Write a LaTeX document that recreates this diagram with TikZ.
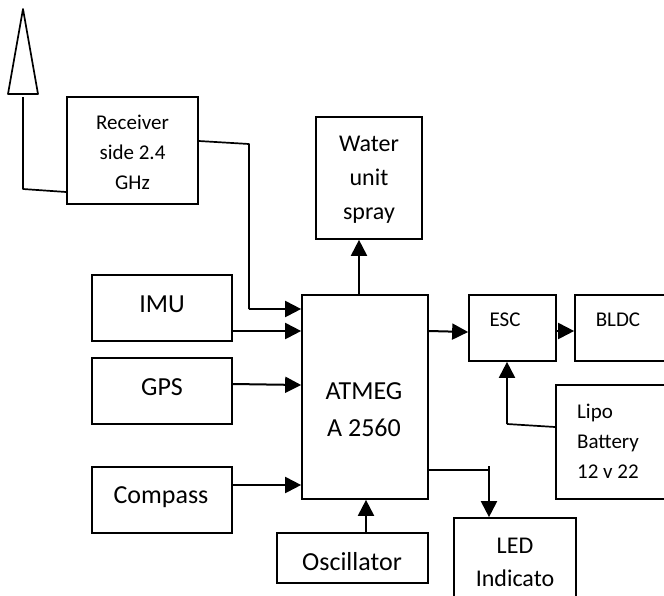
\documentclass[tikz,border=0pt]{standalone}
\usepackage{fontspec}
\setmainfont{Carlito}
\usetikzlibrary{arrows.meta,positioning}

\begin{document}
\begin{tikzpicture}[x=1pt,y=-1pt,
  blk/.style={rectangle,draw=black,line width=1.7pt,inner sep=0pt,align=center},
  txt/.style={inner sep=0pt,align=center,font=\fontsize{26}{37}\selectfont},
  sml/.style={inner sep=0pt,align=center,font=\fontsize{21}{30}\selectfont},
  wire/.style={line width=1.7pt,line join=round},
  sig/.style={wire,line width=2pt,-{Triangle[length=16pt,width=16pt]}},
]
\clip (0,0) rectangle (664,595);

% Antenna
\draw[wire] (23,9) -- (38,94) -- (8,94) -- cycle;
\coordinate (ant) at (23,97);

% Left column
\node[blk, minimum width=131, minimum height=107] (rcv) at (132.5,150.5) {};
\node[sml] (rcvt) at (132.5,152) {Receiver\\side 2.4\\GHz};
\node[blk, minimum width=140, minimum height=66] (imu) at (162,308) {};
\node[txt] (imut) at (162,304) {IMU};
\node[blk, minimum width=140, minimum height=66] (gps) at (162,391) {};
\node[txt] (gpst) at (162,387) {GPS};
\node[blk, minimum width=140, minimum height=66] (cmp) at (162,500) {};
\node[txt] (cmpt) at (161,497) {Compass};

% Controller
\node[blk, minimum width=126, minimum height=204] (atm) at (365,397) {};
\node[txt] (atmt) at (364,410) {ATMEG\\A 2560};
\node[blk, minimum width=151, minimum height=50] (osc) at (352.5,558) {};
\node[txt] (osct) at (352,562) {Oscillator};
\node[blk, minimum width=106, minimum height=122] (wtr) at (369,178) {};
\node[txt, font=\fontsize{24}{34}\selectfont] (wtrt) at (369,180) {Water\\unit\\spray};

% Right side
\node[blk, minimum width=87, minimum height=66] (esc) at (512.5,328) {};
\node[sml] (esct) at (505,320) {ESC};
\node[blk, minimum width=125, minimum height=66] (bldc) at (637.5,328) {};
\node[sml] (bldct) at (618,320) {BLDC};
\node[blk, minimum width=148, minimum height=114] (lipo) at (630,442) {};
\node[sml, align=left] (lipot) at (608,441) {Lipo\\Battery\\12 v 22};
\node[blk, minimum width=122, minimum height=120] (led) at (515,578) {};
\node[sml, font=\fontsize{24}{33}\selectfont] (ledt) at (515,562) {LED\\Indicato};

% Connectors
\draw[wire] (ant) -- (23,189) -- (rcv.west |- 0,192);
\coordinate (rcvb) at (249,144);
\draw[wire] (rcv.east |- 0,141) -- (rcvb) -- (249,309);
\draw[sig] (249,309) -- (atm.west |- 0,309);
\draw[sig] (imu.east |- 0,331) -- (atm.west |- 0,331);
\draw[sig] (gps.east |- 0,384) -- (atm.west |- 0,385);
\draw[sig] (cmp.east |- 0,485) -- (atm.west |- 0,485);
\draw[sig] (osc.north -| 366,0) -- (atm.south -| 366,0);
\draw[sig] (atm.north -| 359,0) -- (wtr.south -| 359,0);
\draw[sig] (atm.east |- 0,331) -- (esc.west |- 0,332);
\draw[sig] (esc.east |- 0,331) -- (bldc.west |- 0,331);
\draw[wire] (lipo.west |- 0,427) -- (507,424);
\draw[sig] (507,424) -- (esc.south -| 507,0);
\draw[wire] (atm.east |- 0,470) -- (489,470);
\draw[sig] (489,466) -- (led.north -| 489,0);
\end{tikzpicture}
\end{document}
